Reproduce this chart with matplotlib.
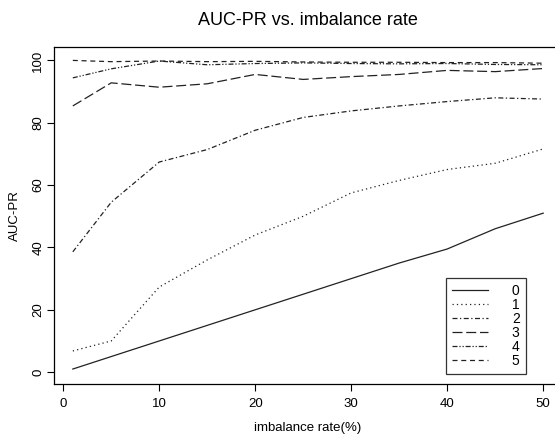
import matplotlib
matplotlib.use("Agg")
import matplotlib.pyplot as plt

plt.rcParams["font.family"] = ["Liberation Sans", "DejaVu Sans"]

rates = [1, 5, 10, 15, 20, 25, 30, 35, 40, 45, 50]
auc_0 = [1, 5, 10, 15, 20, 25, 30, 35, 39.5, 46, 51]
auc_1 = [6.8, 10, 27.3, 36, 44, 50, 57.5, 61.5, 65, 67, 71.6]
auc_2 = [38.6, 54.5, 67.4, 71.4, 77.6, 81.7, 83.8, 85.4, 86.8, 88, 87.6]
auc_3 = [85.4, 92.8, 91.4, 92.5, 95.5, 93.9, 94.8, 95.5, 96.8, 96.4, 97.4]
auc_4 = [94.4, 97.3, 99.8, 98.6, 99.0, 99.2, 99.0, 98.9, 99.0, 98.7, 98.6]
auc_5 = [100, 99.6, 99.8, 99.6, 99.7, 99.5, 99.4, 99.4, 99.3, 99.3, 99.1]
labels = ["0", "1", "2", "3", "4", "5"]

series = [auc_0, auc_1, auc_2, auc_3, auc_4, auc_5]
styles = [
    "-",
    (0, (1, 2.5)),
    (0, (4, 2, 1, 2)),
    (0, (8, 3)),
    (0, (4, 1.5, 1, 1.5, 1, 1.5)),
    (0, (4, 3)),
]

fig = plt.figure(figsize=(5.55, 4.38), dpi=100)
ax = fig.add_axes([0.0973, 0.1233, 0.9153, 0.7701])

for vals, ls, lab in zip(series, styles, labels):
    ax.plot(rates, vals, color="#222222", linestyle=ls, linewidth=0.9, label=lab)

ax.set_xlim(-0.96, 51.96)
ax.set_ylim(-3.8, 104.4)
ax.set_xticks([0, 10, 20, 30, 40, 50])
ax.set_yticks([0, 20, 40, 60, 80, 100])
ax.tick_params(direction="out", length=5, width=0.8, labelsize=9.5)
ax.tick_params(axis="x", pad=5)
ax.tick_params(axis="y", pad=2)
for t in ax.get_yticklabels():
    t.set_rotation(90)
    t.set_va("center")
for s in ax.spines.values():
    s.set_linewidth(0.9)

ax.set_xlabel("imbalance rate(%)", fontsize=9.5, labelpad=9)
ax.set_ylabel("AUC-PR", fontsize=9.5, labelpad=8)
fig.text(0.555, 0.953, "AUC-PR vs. imbalance rate", ha="center", va="center", fontsize=13)

leg = ax.legend(
    loc="lower right",
    bbox_to_anchor=(526 / 555, 64 / 438),
    bbox_transform=fig.transFigure,
    borderaxespad=0,
    fontsize=10,
    frameon=True,
    fancybox=False,
    edgecolor="black",
    labelspacing=0.0,
    handlelength=2.6,
    handletextpad=1.7,
    borderpad=0.45,
)
leg.get_frame().set_linewidth(0.9)

fig.savefig("out.png", dpi=100)
